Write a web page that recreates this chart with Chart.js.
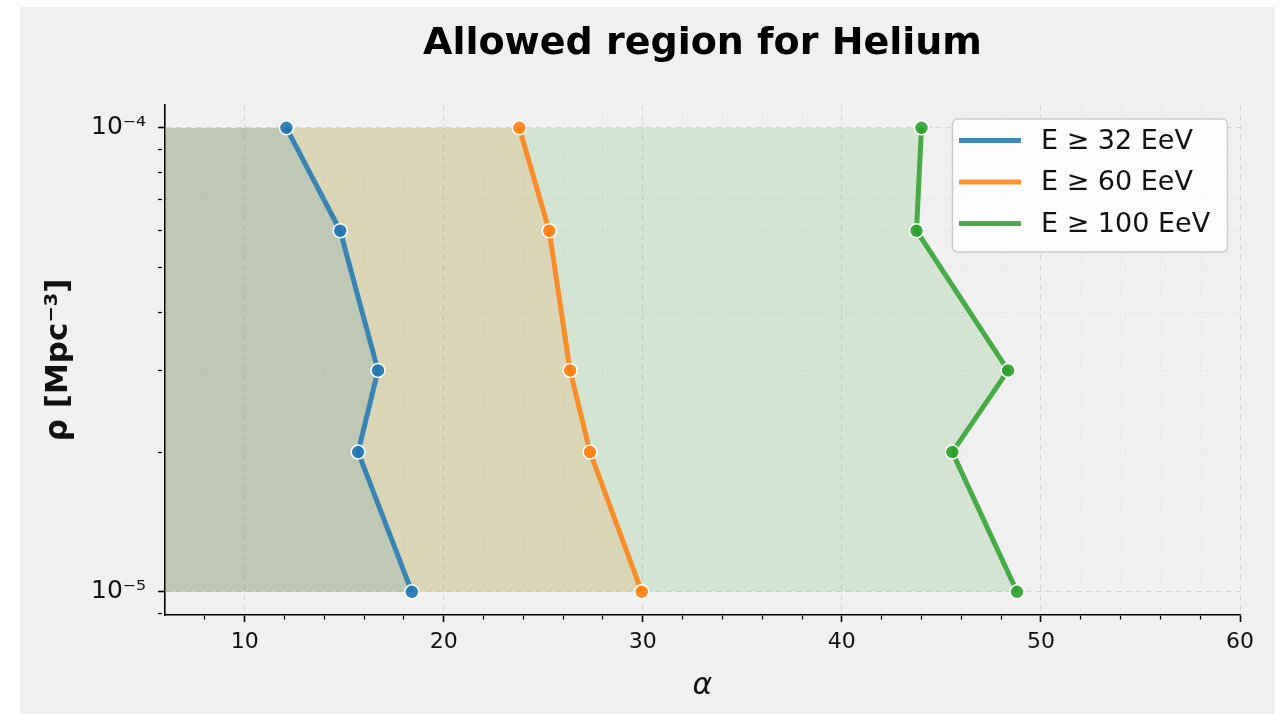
<!DOCTYPE html>
<html><head><meta charset="utf-8">
<script src="https://cdn.jsdelivr.net/npm/chart.js@4"></script>
<style>
html,body{margin:0;padding:0;background:#fff;}
#wrap{position:absolute;left:20px;top:7px;width:1255px;height:707px;background:#f0f0f0;}
canvas{display:block;}
</style></head><body>
<div id="wrap"><canvas id="c" width="1255" height="707"></canvas></div>
<script>
// ---- data ----
const RHO = [1e-4, 6e-5, 3e-5, 2e-5, 1e-5];
const ALPHA_32 = [12.1, 14.8, 16.7, 15.7, 18.4];
const ALPHA_60 = [23.8, 25.3, 26.35, 27.35, 29.95];
const ALPHA_100 = [44.0, 43.75, 48.35, 45.55, 48.8];
const SERIES_LABELS = ['E \u2265 32 EeV', 'E \u2265 60 EeV', 'E \u2265 100 EeV'];
const TITLE = 'Allowed region for Helium';
const X_LABEL = '\u03b1';
const Y_LABEL = '\u03c1 [Mpc\u207b\u00b3]';
const X_MIN = 6, X_MAX = 60;
const X_TICKS = [8,10,12,14,16,18,20,22,24,26,28,30,32,34,36,38,40,42,44,46,48,50,52,54,56,58,60];
const X_MAJOR = [10,20,30,40,50,60];
const Y_MIN = 8.9125e-6, Y_MAX = 1.122e-4;
const Y_TICKS = [9e-6,1e-5,2e-5,3e-5,4e-5,5e-5,6e-5,7e-5,8e-5,9e-5,1e-4];
const Y_TICK_LABELS = {'1e-5':'10\u207b\u2075','1e-4':'10\u207b\u2074'};

const COLORS = ['31,119,180','255,127,14','44,160,44'];
const SERIES = [ALPHA_32, ALPHA_60, ALPHA_100];

const isXMajor = v => X_MAJOR.includes(v);
const yKey = v => Number(v).toExponential(0);
const isYMajor = v => Y_TICK_LABELS[yKey(v)] !== undefined;

const datasets = SERIES.map((arr, i) => ({
  label: SERIES_LABELS[i],
  data: arr.map((a, j) => ({x: a, y: RHO[j]})),
  borderColor: `rgba(${COLORS[i]},0.85)`,
  backgroundColor: `rgba(${COLORS[i]},0.15)`,
  borderWidth: 5,
  pointRadius: 7,
  pointHoverRadius: 7,
  pointBackgroundColor: `rgba(${COLORS[i]},0.9)`,
  pointBorderColor: '#ffffff',
  pointBorderWidth: 1.5,
  fill: {value: X_MIN},
  tension: 0
}));

const legendPlugin = {
  id: 'boxLegend',
  afterDraw(chart) {
    const ctx = chart.ctx, ca = chart.chartArea;
    const x0 = ca.right - 288, y0 = ca.top + 14, w = 275, h = 133;
    ctx.save();
    ctx.beginPath();
    ctx.roundRect(x0 + 0.5, y0 + 0.5, w, h, 5);
    ctx.fillStyle = 'rgba(255,255,255,0.8)';
    ctx.fill();
    ctx.strokeStyle = '#cccccc';
    ctx.lineWidth = 1.5;
    ctx.stroke();
    chart.data.datasets.forEach((ds, i) => {
      const y = y0 + 22 + i * 41.5;
      ctx.strokeStyle = ds.borderColor;
      ctx.lineWidth = 5;
      ctx.lineCap = 'butt';
      ctx.beginPath();
      ctx.moveTo(x0 + 7, y);
      ctx.lineTo(x0 + 69, y);
      ctx.stroke();
      ctx.fillStyle = '#111';
      ctx.font = '27px "DejaVu Sans"';
      ctx.textBaseline = 'middle';
      ctx.textAlign = 'left';
      ctx.fillText(ds.label, x0 + 89, y + 1);
    });
    ctx.restore();
  }
};

new Chart(document.getElementById('c'), {
  type: 'line',
  data: {datasets},
  plugins: [legendPlugin],
  options: {
    responsive: false,
    animation: false,
    indexAxis: 'y',
    layout: {padding: {left: 0, right: 35, top: 0, bottom: 0}},
    plugins: {
      legend: {display: false},
      tooltip: {enabled: false},
      title: {
        display: true, text: TITLE, fullSize: false, color: '#000',
        font: {family: 'DejaVu Sans', size: 38, weight: 'bold'},
        padding: {top: 14, bottom: 38}
      }
    },
    scales: {
      x: {
        type: 'linear', position: 'bottom', min: X_MIN, max: X_MAX,
        afterBuildTicks: s => { s.ticks = X_TICKS.map(v => ({value: v})); },
        afterFit: s => { s.height = 99; },
        ticks: {
          autoSkip: false, maxRotation: 0, padding: 7, color: '#111',
          font: {family: 'DejaVu Sans', size: 22},
          callback: v => isXMajor(v) ? String(v) : ''
        },
        grid: {
          color: c => (c.tick && isXMajor(c.tick.value)) ? '#d4d4d4' : '#e0e0e0',
          lineWidth: c => (c.tick && isXMajor(c.tick.value)) ? 1 : 0.9,
          tickLength: 7,
          tickColor: '#000',
          tickWidth: c => (c.tick && isXMajor(c.tick.value)) ? 1.6 : 1.2,
          tickBorderDash: c => (c.tick && isXMajor(c.tick.value)) ? [] : [4, 100]
        },
        border: {
          display: true, color: '#000', width: 1.6,
          dash: c => (c.tick && isXMajor(c.tick.value)) ? [6, 4] : [1.5, 3]
        },
        title: {
          display: true, text: X_LABEL, color: '#111',
          font: {family: 'DejaVu Sans', size: 30, style: 'italic'},
          padding: {top: 0, bottom: 10}
        }
      },
      y: {
        type: 'logarithmic', position: 'left', min: Y_MIN, max: Y_MAX,
        afterBuildTicks: s => { s.ticks = Y_TICKS.map(v => ({value: v})); },
        afterFit: s => { s.width = 145; },
        ticks: {
          autoSkip: false, padding: 12, color: '#111',
          font: {family: 'DejaVu Sans', size: 25},
          callback: v => Y_TICK_LABELS[yKey(v)] || ''
        },
        grid: {
          color: c => (c.tick && isYMajor(c.tick.value)) ? '#d4d4d4' : '#e0e0e0',
          lineWidth: c => (c.tick && isYMajor(c.tick.value)) ? 1 : 0.9,
          tickLength: 7,
          tickColor: '#000',
          tickWidth: c => (c.tick && isYMajor(c.tick.value)) ? 1.6 : 1.2,
          tickBorderDash: c => (c.tick && isYMajor(c.tick.value)) ? [] : [4, 100]
        },
        border: {
          display: true, color: '#000', width: 1.6,
          dash: c => (c.tick && isYMajor(c.tick.value)) ? [6, 4] : [1.5, 3]
        },
        title: {
          display: true, text: Y_LABEL, color: '#111',
          font: {family: 'DejaVu Sans', size: 31, weight: 'bold'},
          padding: {top: 20, bottom: 0}
        }
      }
    }
  }
});
</script>
</body></html>
